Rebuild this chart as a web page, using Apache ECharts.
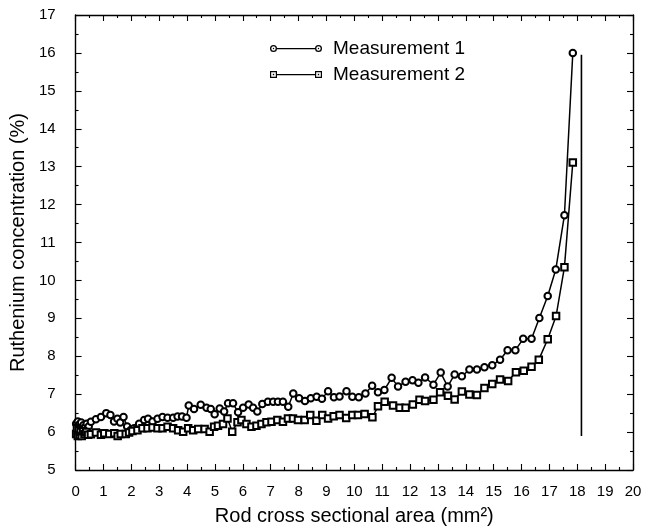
<!DOCTYPE html>
<html>
<head>
<meta charset="utf-8">
<script src="https://cdn.jsdelivr.net/npm/echarts@6/dist/echarts.min.js"></script>
<style>
html,body{margin:0;padding:0;background:#fff;}
#chart{width:647px;height:531px;}
</style>
</head>
<body>
<div id="chart"></div>
<script>
// ---- Data ----
const seriesNames = ['Measurement 1', 'Measurement 2'];

const m1X = [0.02,0.05,0.08,0.10,0.13,0.17,0.20,0.24,0.28,0.33,0.40,0.47,
  0.55,0.73,0.91,1.10,1.25,1.38,1.50,1.60,1.72,1.85,1.97,2.10,2.28,2.46,2.60,2.76,2.94,3.12,3.30,3.50,
  3.66,3.82,3.98,4.06,4.25,4.49,4.70,4.85,4.99,5.17,5.33,5.47,5.65,5.83,6.01,6.21,6.37,6.52,6.70,
  6.90,7.09,7.26,7.44,7.63,7.81,8.02,8.23,8.44,8.65,8.84,9.06,9.27,9.47,9.72,9.93,10.16,10.40,
  10.64,10.85,11.08,11.34,11.57,11.84,12.09,12.30,12.54,12.84,13.10,13.35,13.60,13.86,14.13,14.40,
  14.67,14.95,15.23,15.50,15.78,16.06,16.36,16.64,16.94,17.23,17.54,17.84];
const m1Y = [6.22,6.05,6.28,6.00,6.20,6.10,6.25,6.08,6.18,6.12,6.22,6.15,
  6.27,6.34,6.40,6.50,6.45,6.28,6.35,6.25,6.40,6.15,6.05,6.10,6.22,6.32,6.35,6.28,6.35,6.40,6.38,6.38,
  6.41,6.41,6.38,6.70,6.61,6.72,6.64,6.61,6.47,6.62,6.54,6.76,6.76,6.52,6.64,6.73,6.64,6.54,6.74,
  6.80,6.80,6.80,6.80,6.67,7.02,6.89,6.82,6.89,6.93,6.88,7.08,6.92,6.94,7.08,6.93,6.92,7.02,
  7.22,7.05,7.11,7.43,7.20,7.33,7.37,7.30,7.44,7.25,7.57,7.20,7.52,7.47,7.65,7.65,
  7.71,7.76,7.91,8.16,8.16,8.46,8.46,9.01,9.59,10.29,11.72,16.00];

const m2X = [0.02,0.05,0.08,0.11,0.14,0.18,0.22,0.27,0.32,0.38,0.45,
  0.55,0.73,0.91,1.03,1.21,1.39,1.51,1.62,1.80,1.92,2.04,2.22,2.40,2.58,2.76,2.94,3.12,3.30,3.50,
  3.68,3.86,4.04,4.22,4.40,4.63,4.81,4.97,5.11,5.29,5.45,5.62,5.81,5.95,6.13,6.31,6.49,6.67,6.85,
  7.03,7.24,7.44,7.62,7.80,7.98,8.22,8.42,8.64,8.85,9.06,9.26,9.47,9.71,9.93,10.13,10.37,10.65,
  10.85,11.09,11.39,11.63,11.84,12.10,12.34,12.54,12.84,13.08,13.36,13.60,13.86,14.13,14.40,
  14.67,14.95,15.23,15.52,15.80,16.08,16.36,16.62,16.94,17.24,17.54,17.84];
const m2Y = [5.95,6.10,5.90,6.05,5.92,6.00,5.90,6.02,5.95,6.00,5.93,
  5.94,5.99,5.93,5.97,5.95,5.97,5.90,5.95,5.95,5.99,6.03,6.05,6.10,6.10,6.12,6.10,6.10,6.14,6.10,
  6.05,6.01,6.10,6.05,6.08,6.08,6.01,6.14,6.17,6.21,6.36,6.01,6.26,6.32,6.21,6.14,6.17,6.21,6.26,
  6.27,6.32,6.27,6.36,6.36,6.32,6.32,6.45,6.30,6.45,6.36,6.42,6.45,6.37,6.45,6.45,6.48,6.39,
  6.68,6.80,6.70,6.64,6.64,6.73,6.85,6.82,6.85,7.05,6.96,6.86,7.07,6.99,6.98,
  7.16,7.27,7.39,7.35,7.58,7.62,7.72,7.91,8.45,9.06,10.35,13.11];

// vertical reference line
const refLineX = [18.15, 18.15];
const refLineY = [5.9, 15.95];

// ---- Chart ----
const toPairs = (xs, ys) => xs.map((x, i) => [x, ys[i]]);

const ringPath = 'path://M0,3.5A3.5,3.5,0,1,1,7,3.5A3.5,3.5,0,1,1,0,3.5Z' +
  'M1.3,3.5A2.2,2.2,0,1,0,5.7,3.5A2.2,2.2,0,1,0,1.3,3.5Z' +
  'M2.8,3.5A0.7,0.7,0,1,1,4.2,3.5A0.7,0.7,0,1,1,2.8,3.5Z' +
  'M7,2.9L45,2.9L45,4.2L7,4.2Z' +
  'M45,3.5A3.5,3.5,0,1,1,52,3.5A3.5,3.5,0,1,1,45,3.5Z' +
  'M46.3,3.5A2.2,2.2,0,1,0,50.7,3.5A2.2,2.2,0,1,0,46.3,3.5Z' +
  'M47.8,3.5A0.7,0.7,0,1,1,49.2,3.5A0.7,0.7,0,1,1,47.8,3.5Z';
const squarePath = 'path://M0,0L7,0L7,7L0,7Z' +
  'M1.2,1.2L1.2,5.8L5.8,5.8L5.8,1.2Z' +
  'M2.8,2.8L4.2,2.8L4.2,4.2L2.8,4.2Z' +
  'M7,2.9L45,2.9L45,4.2L7,4.2Z' +
  'M45,0L52,0L52,7L45,7Z' +
  'M46.2,1.2L46.2,5.8L50.8,5.8L50.8,1.2Z' +
  'M47.8,2.8L49.2,2.8L49.2,4.2L47.8,4.2Z';

const FONT = '"Liberation Sans", Arial, Helvetica, sans-serif';

const axisCommon = {
  type: 'value',
  axisLine: { show: true, onZero: false, lineStyle: { color: '#000', width: 1.4 } },
  axisTick: { show: true, inside: true, length: 6, lineStyle: { color: '#000', width: 1.1 } },
  minorTick: { show: true, splitNumber: 2, length: 3, lineStyle: { color: '#000', width: 1.1 } },
  splitLine: { show: false },
  minorSplitLine: { show: false }
};

const chart = echarts.init(document.getElementById('chart'), null, { renderer: 'canvas' });
chart.setOption({
  animation: false,
  backgroundColor: '#fff',
  textStyle: { fontFamily: FONT, color: '#000' },
  grid: { left: 74, right: 14, top: 15, bottom: 61, containLabel: false },
  legend: {
    orient: 'vertical',
    left: 265,
    top: 34,
    itemWidth: 52,
    itemHeight: 7,
    itemGap: 7,
    selectedMode: false,
    textStyle: { fontFamily: FONT, fontSize: 19, color: '#000', padding: [0, 0, 0, 6] },
    data: [
      { name: seriesNames[0], icon: ringPath, itemStyle: { color: '#000', borderWidth: 0 } },
      { name: seriesNames[1], icon: squarePath, itemStyle: { color: '#000', borderWidth: 0 } }
    ]
  },
  xAxis: [
    Object.assign({}, axisCommon, {
      min: 0, max: 20, interval: 1, position: 'bottom',
      name: 'Rod cross sectional area (mm²)',
      nameLocation: 'middle', nameGap: 36,
      nameTextStyle: { fontFamily: FONT, fontSize: 20, color: '#000' },
      axisLabel: { show: true, fontFamily: FONT, fontSize: 15, color: '#000', margin: 14 }
    }),
    Object.assign({}, axisCommon, {
      min: 0, max: 20, interval: 1, position: 'top',
      axisLabel: { show: false }
    })
  ],
  yAxis: [
    Object.assign({}, axisCommon, {
      min: 5, max: 17, interval: 1, position: 'left',
      name: 'Ruthenium concentration (%)',
      nameLocation: 'middle', nameGap: 33,
      nameTextStyle: { fontFamily: FONT, fontSize: 20, color: '#000' },
      axisLabel: { show: true, fontFamily: FONT, fontSize: 15, color: '#000', margin: 20 }
    }),
    Object.assign({}, axisCommon, {
      min: 5, max: 17, interval: 1, position: 'right',
      axisLabel: { show: false }
    })
  ],
  series: [
    {
      name: seriesNames[0], type: 'line', xAxisIndex: 0, yAxisIndex: 0,
      data: toPairs(m1X, m1Y),
      symbol: 'emptyCircle', symbolSize: 6.5, showAllSymbol: true,
      lineStyle: { color: '#000', width: 1.5 },
      itemStyle: { color: '#000', borderColor: '#000', borderWidth: 1.3 },
      emphasis: { disabled: true }
    },
    {
      name: seriesNames[1], type: 'line', xAxisIndex: 0, yAxisIndex: 0,
      data: toPairs(m2X, m2Y),
      symbol: 'emptyRect', symbolSize: 6.5, showAllSymbol: true,
      lineStyle: { color: '#000', width: 1.5 },
      itemStyle: { color: '#000', borderColor: '#000', borderWidth: 1.3 },
      emphasis: { disabled: true }
    },
    {
      name: 'ref', type: 'line', xAxisIndex: 0, yAxisIndex: 0,
      data: toPairs(refLineX, refLineY),
      symbol: 'none',
      lineStyle: { color: '#000', width: 1.6 },
      emphasis: { disabled: true },
      silent: true
    }
  ]
});
</script>
</body>
</html>
